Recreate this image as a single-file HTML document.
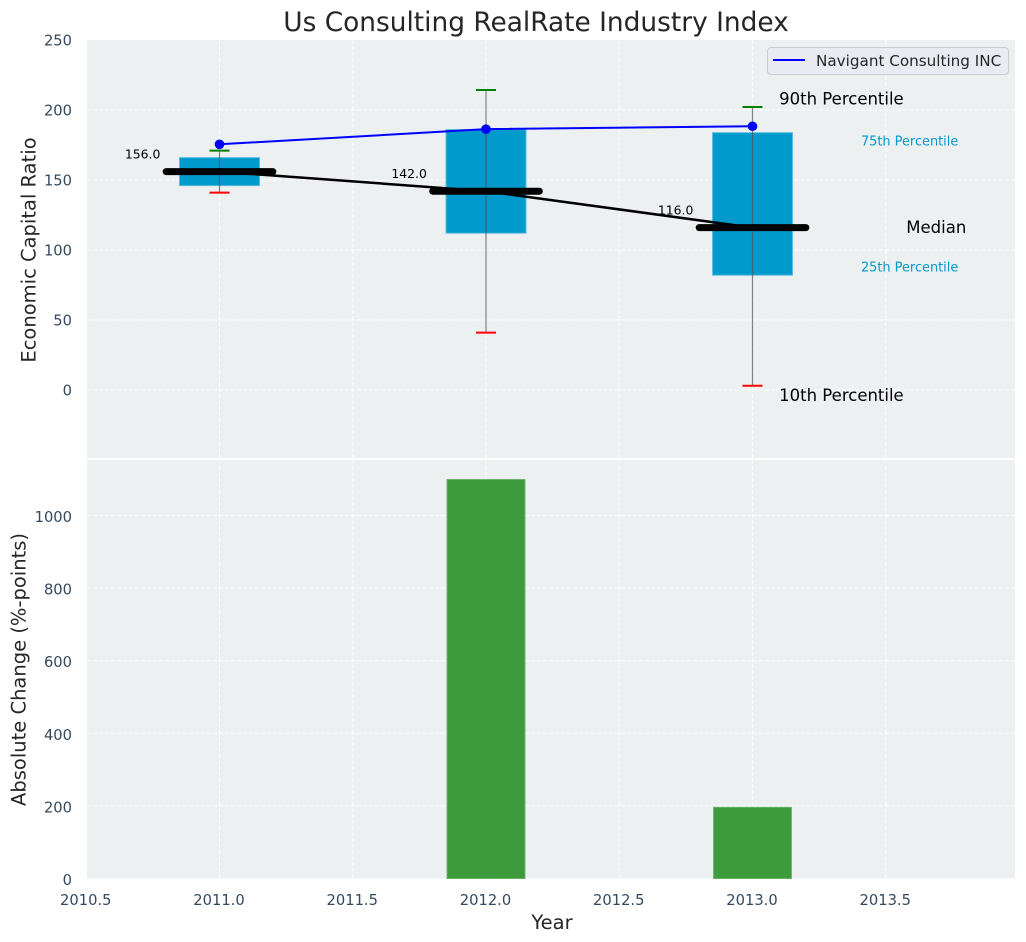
<!DOCTYPE html>
<html lang="en">
<head>
<meta charset="utf-8">
<title>Us Consulting RealRate Industry Index</title>
<style>
  html, body { margin: 0; padding: 0; background: #fff; }
  svg { display: block; font-family: "DejaVu Sans", "Liberation Sans", sans-serif; }
</style>
</head>
<body>
<svg id="chart" xmlns="http://www.w3.org/2000/svg" width="1026" height="942" viewBox="0 0 1026 942">
  <rect width="1026" height="942" fill="#ffffff"/>
  <text x="536" y="31" font-size="26.4" text-anchor="middle" fill="#262626">Us Consulting RealRate Industry Index</text>
  <rect x="87" y="40" width="928" height="418" fill="#ecf0f1"/>
  <rect x="87" y="460" width="928" height="418.5" fill="#ecf0f1"/>
  <g id="grid"></g>
  <g id="bars"></g>
  <g id="boxes"></g>
  <g id="lines"></g>
  <g id="labels"></g>
  <g id="ticks"></g>
  <text transform="translate(35.5 250) rotate(-90)" font-size="19.5" text-anchor="middle" fill="#262626">Economic Capital Ratio</text>
  <text transform="translate(25.5 669.5) rotate(-90)" font-size="19.5" text-anchor="middle" fill="#262626">Absolute Change (%-points)</text>
  <text x="552" y="929" font-size="19.5" text-anchor="middle" fill="#262626">Year</text>
  <g>
    <rect x="767.5" y="47.5" width="241" height="27" rx="3.5" fill="#eaeaf2" fill-opacity="0.8" stroke="#cccccc"/>
    <line x1="773" y1="60" x2="805" y2="60" stroke="#0000ff" stroke-width="2"/>
    <text x="816" y="66" font-size="15.2" fill="#262626">Navigant Consulting INC</text>
  </g>
</svg>
<script>
const years = [2011, 2012, 2013];
const p90 = [171, 214.3, 202.1];
const p75 = [166, 186, 183.8];
const medians = [156, 142, 116];
const p25 = [146, 112, 82];
const p10 = [141, 41, 3];
const navigant = [175.5, 186.3, 188.4];
const absoluteChange = [0, 1099, 196];
const xTicks = [2010.5, 2011, 2011.5, 2012, 2012.5, 2013, 2013.5];
const xTickLabels = ['2010.5', '2011.0', '2011.5', '2012.0', '2012.5', '2013.0', '2013.5'];
const topYTicks = [0, 50, 100, 150, 200, 250];
const bottomYTicks = [0, 200, 400, 600, 800, 1000];

const PLOT_LEFT = 87;
const PLOT_RIGHT = 1015;
const TOP_PANEL_TOP = 40;
const TOP_PANEL_BOTTOM = 458;
const BOTTOM_PANEL_TOP = 460;
const BOTTOM_PANEL_BOTTOM = 878.5;
const TICK_COLOR = '#34495e';
const BOX_COLOR = '#009acd';

function xScale(v) { return 219.5 + (v - 2011) * 266.5; }
function yTop(v) { return 390 - v * 1.4; }
function yBottom(v) { return 878.5 - v * 0.363; }

const NS = 'http://www.w3.org/2000/svg';
function make(parentId, tag, attrs, content) {
  const el = document.createElementNS(NS, tag);
  for (const key in attrs) el.setAttribute(key, attrs[key]);
  if (content !== undefined) el.textContent = content;
  document.getElementById(parentId).appendChild(el);
  return el;
}

xTicks.forEach(function (t, i) {
  const x = xScale(t);
  const upper = make('grid', 'line', { x1: x, x2: x, y1: TOP_PANEL_TOP, y2: TOP_PANEL_BOTTOM, stroke: '#ffffff', 'stroke-width': 1, 'stroke-dasharray': '4 2', 'stroke-opacity': 0.85 });
  
  
  const lower = make('grid', 'line', { x1: x, x2: x, y1: BOTTOM_PANEL_TOP, y2: BOTTOM_PANEL_BOTTOM, stroke: '#ffffff', 'stroke-width': 1, 'stroke-dasharray': '4 2', 'stroke-opacity': 0.85 });
  
  
  const label = make('ticks', 'text', { x: x - 0.5, y: 905, 'font-size': 14.7, 'text-anchor': 'middle', fill: TICK_COLOR }, xTickLabels[i]);
  
  
});

topYTicks.forEach(function (t) {
  const y = yTop(t);
  if (t < 250) {
    const g = make('grid', 'line', { x1: PLOT_LEFT, x2: PLOT_RIGHT, y1: y, y2: y, stroke: '#ffffff', 'stroke-width': 1, 'stroke-dasharray': '4 2', 'stroke-opacity': 0.85 });
    
    
  }
  const label = make('ticks', 'text', { x: 72, y: y + 5.7, 'font-size': 14.7, 'text-anchor': 'end', fill: TICK_COLOR }, String(t));
  
  
});

bottomYTicks.forEach(function (t) {
  const y = yBottom(t);
  if (t > 0) {
    const g = make('grid', 'line', { x1: PLOT_LEFT, x2: PLOT_RIGHT, y1: y, y2: y, stroke: '#ffffff', 'stroke-width': 1, 'stroke-dasharray': '4 2', 'stroke-opacity': 0.85 });
    
    
  }
  const label = make('ticks', 'text', { x: 72, y: y + 6.5, 'font-size': 14.7, 'text-anchor': 'end', fill: TICK_COLOR }, String(t));
  
  
});

years.forEach(function (yr, i) {
  const x = xScale(yr);
  const halfBox = 0.15 * 266.5;
  const halfBar = 0.146 * 266.5;
  const halfCap = 0.0375 * 266.5;
  const halfMedian = 0.2 * 266.5;

  if (absoluteChange[i] > 0) {
    const bar = make('bars', 'rect', { x: x - halfBar, y: yBottom(absoluteChange[i]), width: halfBar * 2, height: yBottom(0) - yBottom(absoluteChange[i]), fill: '#2e932e', 'fill-opacity': 0.92, stroke: '#62b162', 'stroke-width': 1 });
    
    
  }

  const box = make('boxes', 'rect', { x: x - halfBox, y: yTop(p75[i]), width: halfBox * 2, height: yTop(p25[i]) - yTop(p75[i]), fill: BOX_COLOR, stroke: '#5cbcdd', 'stroke-width': 1 });
  
  

  const whisker = make('boxes', 'line', { x1: x, x2: x, y1: yTop(p90[i]), y2: yTop(p10[i]), stroke: '#505050', 'stroke-opacity': 0.7, 'stroke-width': 1.2 });
  
  

  const capHigh = make('boxes', 'line', { x1: x - halfCap, x2: x + halfCap, y1: yTop(p90[i]), y2: yTop(p90[i]), stroke: '#008000', 'stroke-width': 2 });
  
  

  const capLow = make('boxes', 'line', { x1: x - halfCap, x2: x + halfCap, y1: yTop(p10[i]), y2: yTop(p10[i]), stroke: '#ff0000', 'stroke-width': 2 });
  
  

  const medianBar = make('labels', 'line', { x1: x - halfMedian, x2: x + halfMedian, y1: yTop(medians[i]), y2: yTop(medians[i]), stroke: '#000000', 'stroke-width': 7, 'stroke-linecap': 'round' });
  
  

  const medianText = make('labels', 'text', { x: xScale(yr - 0.355), y: yTop(medians[i] + 10) + 1, 'font-size': 12.4, fill: '#000000' }, medians[i].toFixed(1));
  
  
});

const navigantPoints = years.map(function (yr, i) { return xScale(yr) + ',' + yTop(navigant[i]); }).join(' ');
const navigantLine = make('lines', 'polyline', { points: navigantPoints, fill: 'none', stroke: '#0000ff', 'stroke-width': 2 });



years.forEach(function (yr, i) {
  const dot = make('lines', 'circle', { cx: xScale(yr), cy: yTop(navigant[i]), r: 4.8, fill: '#0000ff' });
  
  
});

const medianPoints = years.map(function (yr, i) { return xScale(yr) + ',' + yTop(medians[i]); }).join(' ');
const medianLine = make('lines', 'polyline', { points: medianPoints, fill: 'none', stroke: '#000000', 'stroke-width': 2.5 });



const last = years.length - 1;
const lastYear = years[last];
const p90Note = make('labels', 'text', { x: xScale(lastYear + 0.1), y: yTop(p90[last] + 2), 'font-size': 16.5, fill: '#000000' }, '90th Percentile');


const p75Note = make('labels', 'text', { x: xScale(lastYear + 0.407), y: yTop(p75[last] - 9), 'font-size': 12.9, fill: BOX_COLOR }, '75th Percentile');


const medianNote = make('labels', 'text', { x: xScale(lastYear + 0.577), y: yTop(medians[last] - 4), 'font-size': 16.5, fill: '#000000' }, 'Median');


const p25Note = make('labels', 'text', { x: xScale(lastYear + 0.407), y: yTop(p25[last] + 2.5), 'font-size': 12.9, fill: BOX_COLOR }, '25th Percentile');


const p10Note = make('labels', 'text', { x: xScale(lastYear + 0.1), y: yTop(p10[last] - 11), 'font-size': 16.5, fill: '#000000' }, '10th Percentile');


</script>
</body>
</html>
